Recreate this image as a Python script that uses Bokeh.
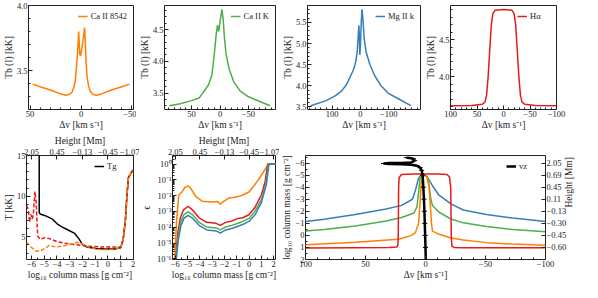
import math
import numpy as np
from bokeh.plotting import figure
from bokeh.models import Range1d, FixedTicker, LinearAxis
from bokeh.layouts import column, row
from bokeh.embed import file_html
from bokeh.resources import INLINE

FONT = "Liberation Serif"
C_OR, C_RD, C_GR, C_BL = "#ff7f00", "#e41a1c", "#4daf4a", "#377eb8"
INK = "#222222"

# ---------------- data ----------------
# Panel 1: Ca II 8542 profile
ca8542_dv = [47.5, 40, 30, 20, 15, 12, 9, 7, 5.5, 4.5, 3.5, 2.8, 2.3, 1.8, 1.2, 0.6, 0,
             -0.8, -1.8, -2.8, -3.5, -4.2, -5, -6, -7.5, -9, -12, -15, -20, -30, -40, -47.5]
ca8542_tb = [3.395, 3.375, 3.35, 3.32, 3.31, 3.315, 3.33, 3.37, 3.43, 3.52, 3.62, 3.72, 3.80,
             3.72, 3.63, 3.61, 3.63, 3.67, 3.72, 3.78, 3.83, 3.72, 3.56, 3.45, 3.38, 3.34,
             3.315, 3.31, 3.32, 3.35, 3.375, 3.395]
# Panel 2: Ca II K profile
cak_dv = [88.9, 70, 50, 36.7, 25.6, 20, 14.4, 11.7, 8.9, 6.7, 4.4, 2.2, 0, -3.3, -5.6, -7.8,
          -10.6, -16, -24, -35.6, -50, -69, -88]
cak_tb = [3.30, 3.33, 3.38, 3.42, 3.56, 3.63, 3.78, 3.97, 4.22, 4.42, 4.57, 4.47, 4.62, 4.82,
          4.66, 4.37, 4.12, 3.88, 3.68, 3.53, 3.44, 3.37, 3.30]
# Panel 3: Mg II k profile
mgk_dv = [176, 121, 88, 66, 49.5, 38.5, 27.5, 22, 16.5, 11, 7.7, 5.5, 3.3, 2.2, 0, -3.3, -5.5,
          -8.8, -13, -20, -33, -49.5, -71.5, -99, -132, -178]
mgk_tb = [3.53, 3.65, 3.77, 3.88, 4.03, 4.18, 4.34, 4.43, 4.58, 4.84, 5.21, 5.43, 5.06, 4.73,
          4.99, 5.57, 5.81, 5.57, 5.13, 4.80, 4.51, 4.25, 4.01, 3.82, 3.70, 3.53]
# Panel 4: H-alpha profile
ha_dv = [100, 60, 40, 35, 32, 29, 26, 23, 20, 16, 10, 0, -10, -16, -20, -23, -26, -29, -32,
         -35, -40, -60, -100]
ha_tb = [3.61, 3.615, 3.63, 3.66, 3.75, 4.0, 4.35, 4.7, 4.85, 4.895, 4.9, 4.905, 4.9, 4.895,
         4.85, 4.7, 4.35, 4.0, 3.75, 3.66, 3.63, 3.615, 3.61]

# Panel 5: temperatures vs log10 column mass
tg_cm = [-5.40, -5.40, -5.33, -5.21, -4.84, -4.35, -3.99, -3.62, -3.13, -2.64, -2.28, -2.03,
         -1.67, -0.94, -0.21, 0.53, 1.01, 1.21, 1.38, 1.50, 1.62, 1.82, 1.99]
tg_T = [40.0, 7.99, 7.80, 7.73, 7.54, 7.16, 6.59, 6.21, 5.83, 5.45, 4.77, 4.13, 3.75, 3.56,
        3.48, 3.48, 3.64, 4.70, 6.97, 10.0, 12.27, 12.84, 13.22]
trad_r_cm = [-6.40, -6.25, -6.16, -6.06, -5.96, -5.86, -5.74, -5.64, -5.52, -5.33, -4.96, -4.60,
             -3.99, -3.13, -2.40, -1.67, -0.69, 0.28, 1.01, 1.21, 1.38, 1.50, 1.62, 1.82, 1.99]
trad_r_T = [8.86, 8.30, 6.78, 7.73, 7.16, 7.73, 10.57, 9.24, 5.08, 4.70, 4.89, 4.77, 4.39, 4.13,
            4.02, 3.86, 3.75, 3.75, 3.75, 4.70, 6.97, 10.0, 12.27, 12.84, 13.22]
trad_o_cm = [-6.40, -6.06, -5.69, -5.33, -4.96, -4.60, -4.11, -3.50, -2.77, -2.40, -2.03, -1.55,
             -0.94, -0.21, 0.53, 1.01, 1.21, 1.38, 1.50, 1.62, 1.82, 1.99]
trad_o_T = [4.32, 3.75, 3.26, 3.26, 3.56, 3.94, 3.75, 3.86, 4.13, 4.32, 4.13, 3.75, 3.48, 3.41,
            3.45, 3.64, 4.70, 6.97, 10.0, 12.27, 12.84, 13.22]

# Panel 6: epsilon (log10) vs log10 column mass
eps_o_cm = [-6.05, -5.90, -5.72, -5.46, -5.22, -4.96, -4.71, -4.33, -3.82, -3.06, -2.55, -2.34,
            -2.04, -1.66, -1.28, -0.90, -0.52, -0.01, 0.49, 1.00, 1.39, 1.59, 2.15]
eps_o_log = [-6.0, -3.6, -1.96, -1.77, -1.48, -1.38, -1.58, -2.06, -2.35, -2.40, -2.37, -2.54,
             -2.35, -2.15, -2.12, -2.06, -1.96, -1.77, -1.29, -0.71, -0.23, 0.0, 0.0]
eps_r_cm = [-5.97, -5.80, -5.59, -5.35, -4.96, -4.58, -4.07, -3.44, -2.68, -2.34, -1.91, -1.41,
            -0.90, -0.52, -0.01, 0.49, 1.00, 1.31, 1.51, 2.15]
eps_r_log = [-6.0, -4.37, -3.40, -2.92, -2.67, -2.92, -3.40, -3.69, -3.75, -3.88, -3.69, -3.60,
             -3.44, -3.40, -3.21, -2.73, -1.96, -1.10, 0.0, 0.0]
eps_g_cm = [-5.95, -5.77, -5.57, -5.32, -4.96, -4.58, -4.07, -3.44, -2.68, -2.34, -1.91, -1.41,
            -0.90, -0.52, -0.01, 0.49, 1.00, 1.36, 1.56, 2.15]
eps_g_log = [-6.0, -4.56, -3.69, -3.21, -3.02, -3.21, -3.69, -3.98, -4.04, -4.17, -3.98, -3.88,
             -3.75, -3.63, -3.44, -2.98, -2.25, -1.29, 0.0, 0.0]
eps_b_cm = [-5.92, -5.75, -5.54, -5.30, -4.96, -4.58, -4.07, -3.44, -2.68, -2.34, -1.91, -1.41,
            -0.90, -0.52, -0.01, 0.49, 1.00, 1.41, 1.62, 2.15]
eps_b_log = [-6.0, -4.75, -3.88, -3.44, -3.25, -3.44, -3.88, -4.17, -4.23, -4.37, -4.17, -4.08,
             -3.94, -3.83, -3.63, -3.21, -2.44, -1.29, 0.0, 0.0]

# Panel 7: tau=1 column mass vs velocity, and v_z
mg7_dv = [100, 84.3, 58.5, 32.8, 19.9, 10.9, 8.4, 5.8, 3.7, 2.0, -1.0, -3.0, -5.8, -11, -21.2,
          -31.5, -50.8, -72.7, -100]
mg7_cm = [-1.16, -1.34, -1.74, -2.19, -2.49, -3.0, -3.75, -4.74, -4.99, -5.0, -4.9, -4.6, -4.12,
          -3.37, -2.62, -2.11, -1.74, -1.44, -1.16]
cak7_dv = [100, 84.3, 58.5, 32.8, 19.9, 9.6, 7.1, 5.8, 4.5, 3.2, 1.5, -1.5, -3.0, -4.5, -5.8,
           -11, -21.2, -31.5, -50.8, -72.7, -100]
cak7_cm = [-0.36, -0.48, -0.78, -1.19, -1.49, -1.86, -2.36, -3.49, -4.74, -4.99, -5.0, -4.9,
           -4.2, -3.0, -2.49, -1.94, -1.36, -1.04, -0.74, -0.48, -0.31]
ca87_dv = [100, 58.5, 22.5, 12.2, 8.4, 5.8, 4.5, 3.7, 2.4, 1.0, -1.0, -3.0, -4.0, -5.0, -5.8,
           -11, -21.2, -31.5, -50.8, -72.7, -100]
ca87_cm = [0.77, 0.57, 0.32, 0.02, -0.23, -0.98, -2.74, -4.24, -4.95, -5.0, -4.9, -4.0, -2.5,
           -1.0, -0.36, -0.11, 0.22, 0.39, 0.6, 0.72, 0.82]
ha7_dv = [100, 60, 30, 24, 23, 22.7, 22.4, 22, 20, 10, 0, -10, -18, -20, -21, -21.5, -22, -24,
          -30, -60, -100]
ha7_cm = [1.05, 1.02, 1.0, 0.97, 0.8, 0.0, -4.0, -4.8, -5.05, -5.1, -5.1, -5.1, -5.05, -4.85,
          -4.0, 0.0, 0.9, 1.0, 1.02, 1.03, 1.03]
vz_v = [-0.2, 0.0, 0.3, 0.6, 0.9, 1.3, 1.8, 2.4, 3.2, 4.5, 7, 12, 20, 30, 35, 30, 20, 12, 9, 10,
        13, 16]
vz_cm = [2.0, 1.0, 0.0, -1.0, -2.0, -3.0, -4.0, -5.0, -5.4, -5.62, -5.78, -5.87, -5.9, -5.93,
         -5.96, -6.0, -6.0, -6.05, -6.2, -6.35, -6.42, -6.45]

# tick labels of the height axes
height_top_cm = [-6, -4, -2, 0, 2]
height_top_lbl = ["2.05", "0.45", "\u22120.13", "\u22120.45", "\u22121.07"]
height_right_cm = [-6, -5, -4, -3, -2, -1, 0, 1]
height_right_lbl = ["2.05", "0.69", "0.45", "0.11", "\u22120.13", "\u22120.30", "\u22120.45",
                    "\u22120.60"]
eps_ticks = [1e-6, 1e-5, 1e-4, 1e-3, 1e-2, 1e-1, 1.0]
eps_lbl = ["10\u207b\u2076", "10\u207b\u2075", "10\u207b\u2074", "10\u207b\u00b3",
           "10\u207b\u00b2", "10\u207b\u00b9", "10\u2070"]

DV_LABEL = "\u0394v [km s\u207b\u00b9]"
CM_LABEL = "log\u2081\u2080 column mass [g cm\u207b\u00b2]"
TB_LABEL = "Tb (I) [kK]"

# ---------------- layout helpers ----------------
SX, SY = 582 / 598, 282 / 298
TICK_FS, LABEL_FS = "8.5px", "9.5px"


def R(v, s):
    return int(round(v * s))


def make_fig(xs, xe, ys, ye, fx0, fx1, fy0, fy1, xr, yr, **kw):
    W = R(xe, SX) - R(xs, SX)
    H = R(ye, SY) - R(ys, SY)
    p = figure(width=W, height=H,
               min_border_left=R(fx0, SX) - R(xs, SX),
               min_border_right=R(xe, SX) - R(fx1, SX),
               min_border_top=R(fy0, SY) - R(ys, SY),
               min_border_bottom=R(ye, SY) - R(fy1, SY),
               x_range=Range1d(*xr), y_range=Range1d(*yr),
               toolbar_location=None, output_backend="svg", **kw)
    p.outline_line_color = INK
    p.outline_line_width = 1
    p.xgrid.visible = False
    p.ygrid.visible = False
    p.background_fill_color = "white"
    p.border_fill_color = "white"
    return p


def fmt(t, nd):
    return f"{t:.{nd}f}".replace("-", "\u2212")


def style_axis(ax, ticks, minor, nd=0, labels=None, label=None):
    ax.ticker = FixedTicker(ticks=[float(t) for t in ticks],
                            minor_ticks=[float(m) for m in minor])
    if labels is None:
        labels = [fmt(t, nd) for t in ticks]
    ax.major_label_overrides = {float(t): l for t, l in zip(ticks, labels)}
    ax.major_label_text_font = FONT
    ax.major_label_text_font_size = TICK_FS
    ax.major_label_text_color = INK
    ax.major_tick_in = 4
    ax.major_tick_out = 0
    ax.minor_tick_in = 2
    ax.minor_tick_out = 0
    ax.major_tick_line_color = INK
    ax.minor_tick_line_color = INK
    ax.axis_line_color = None
    ax.major_label_standoff = 1
    ax.axis_label_standoff = 0
    if label is not None:
        ax.axis_label = label
        ax.axis_label_text_font = FONT
        ax.axis_label_text_font_size = LABEL_FS
        ax.axis_label_text_font_style = "normal"
        ax.axis_label_text_color = INK


def style_legend(p):
    lg = p.legend[0]
    lg.location = "top_right"
    lg.label_text_font = FONT
    lg.label_text_font_size = "8.5px"
    lg.label_text_color = INK
    lg.glyph_width = 10
    lg.glyph_height = 8
    lg.label_height = 8
    lg.label_standoff = 3
    lg.padding = 2
    lg.margin = 4
    lg.spacing = 0
    lg.border_line_alpha = 0
    lg.background_fill_alpha = 0


def steps(a, b, s):
    return list(np.round(np.arange(a, b + s / 2, s), 6))


LW = 1.5

# ---------------- top row ----------------
p1 = make_fig(0, 140, 0, 140, 22, 137, 5, 117, (51.5, -51.5), (3.2, 4.0))
p1.line(ca8542_dv, ca8542_tb, color=C_OR, line_width=LW, legend_label="Ca II 8542")
style_axis(p1.xaxis[0], [50, 0, -50], steps(-50, 50, 10), 0, label=DV_LABEL)
style_axis(p1.yaxis[0], [3.5, 4.0], steps(3.2, 4.0, 0.1), 1, label=TB_LABEL)
style_legend(p1)

p2 = make_fig(140, 287, 0, 140, 166, 283, 5, 117, (97.5, -97.5), (3.24, 4.88))
p2.line(cak_dv, cak_tb, color=C_GR, line_width=LW, legend_label="Ca II K")
style_axis(p2.xaxis[0], [50, 0, -50], steps(-90, 90, 10), 0, label=DV_LABEL)
style_axis(p2.yaxis[0], [3.5, 4.0, 4.5], steps(3.3, 4.8, 0.1), 1, label=TB_LABEL)
style_legend(p2)

p3 = make_fig(287, 434, 0, 140, 311, 432, 5, 117, (187, -212), (3.44, 5.9))
p3.line(mgk_dv, mgk_tb, color=C_BL, line_width=LW, legend_label="Mg II k")
style_axis(p3.xaxis[0], [100, 0, -100], steps(-200, 180, 20), 0, label=DV_LABEL)
style_axis(p3.yaxis[0], [3.5, 4.0, 4.5, 5.0, 5.5], steps(3.5, 5.9, 0.1), 1, label=TB_LABEL)
style_legend(p3)

p4 = make_fig(434, 598, 0, 140, 455, 571, 5, 117, (100, -100), (3.56, 4.96))
p4.line(ha_dv, ha_tb, color=C_RD, line_width=LW, legend_label="H\u03b1")
style_axis(p4.xaxis[0], [100, 50, 0, -50, -100], steps(-100, 100, 10), 0, label=DV_LABEL)
style_axis(p4.yaxis[0], [4.0, 4.5], steps(3.6, 4.9, 0.1), 1, label=TB_LABEL)
style_legend(p4)

# ---------------- bottom row ----------------
p5 = make_fig(0, 143, 140, 298, 22, 137, 163, 277, (-6.4, 2.02), (2.2, 15))
p5.line(tg_cm, tg_T, color="black", line_width=LW, legend_label="Tg")
p5.line(trad_r_cm, trad_r_T, color=C_RD, line_width=LW, line_dash="4 2")
p5.line(trad_o_cm, trad_o_T, color=C_OR, line_width=LW, line_dash="4 2")
style_axis(p5.xaxis[0], list(range(-6, 3)), steps(-6.0, 2.0, 0.5), 0, label=CM_LABEL)
style_axis(p5.yaxis[0], [5, 10, 15], list(range(3, 16)), 0, label="T [kK]")
top5 = LinearAxis()
p5.add_layout(top5, "above")
style_axis(top5, height_top_cm, [], labels=height_top_lbl, label="Height [Mm]")
style_legend(p5)

p6 = make_fig(143, 287, 140, 298, 173, 283, 163, 277, (-6.23, 2.15),
              (10 ** -6.04, 10 ** 0.54), y_axis_type="log")
for cm, lg, c in ((eps_o_cm, eps_o_log, C_OR), (eps_r_cm, eps_r_log, C_RD),
                  (eps_g_cm, eps_g_log, C_GR), (eps_b_cm, eps_b_log, C_BL)):
    p6.line(cm, list(10.0 ** np.array(lg)), color=c, line_width=LW)
style_axis(p6.xaxis[0], list(range(-6, 3)), steps(-6.0, 2.0, 0.5), 0, label=CM_LABEL)
minor_log = [k * 10.0 ** e for e in range(-7, 1) for k in range(2, 10)]
style_axis(p6.yaxis[0], eps_ticks, minor_log, labels=eps_lbl, label="\u03f5")
p6.yaxis[0].axis_label_standoff = 2
top6 = LinearAxis()
p6.add_layout(top6, "above")
style_axis(top6, height_top_cm, [], labels=height_top_lbl, label="Height [Mm]")

p7 = make_fig(287, 598, 140, 298, 311, 570, 163, 277, (100, -100), (2.0, -6.63))
p7.line(mg7_dv, mg7_cm, color=C_BL, line_width=LW)
p7.line(cak7_dv, cak7_cm, color=C_GR, line_width=LW)
p7.line(ca87_dv, ca87_cm, color=C_OR, line_width=LW)
p7.line(ha7_dv, ha7_cm, color=C_RD, line_width=LW)
p7.line(vz_v, vz_cm, color="black", line_width=2.5, legend_label="vz")
p7.scatter(vz_v, vz_cm, marker="dash", size=5, color="black")
style_axis(p7.xaxis[0], [100, 50, 0, -50, -100], steps(-100, 100, 10), 0, label=DV_LABEL)
style_axis(p7.yaxis[0], list(range(-6, 3)), steps(-6.5, 2.0, 0.5), 0, label=CM_LABEL)
right7 = LinearAxis()
p7.add_layout(right7, "right")
style_axis(right7, height_right_cm, [], labels=height_right_lbl, label="Height [Mm]")
right7.axis_label_orientation = math.pi / 2
style_legend(p7)

layout = column(row(p1, p2, p3, p4), row(p5, p6, p7))
open("out.html", "w").write(file_html(layout, INLINE))
